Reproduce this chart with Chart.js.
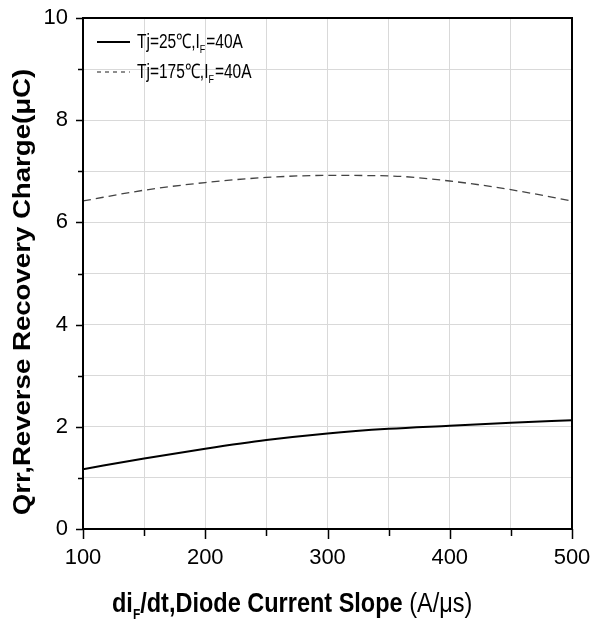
<!DOCTYPE html>
<html>
<head>
<meta charset="utf-8">
<script src="https://cdn.jsdelivr.net/npm/chart.js@4"></script>
<style>
  html, body { margin: 0; padding: 0; background: #fff; }
  #wrap { width: 591px; height: 620px; }
</style>
</head>
<body>
<div id="wrap"><canvas id="qrrChart" width="591" height="620"></canvas></div>
<script>
// values
const slope = [100, 150, 200, 250, 300, 350, 400, 450, 500];
const qrr25 = [1.17, 1.38, 1.57, 1.74, 1.87, 1.96, 2.02, 2.08, 2.13];
const qrr175 = [6.42, 6.63, 6.78, 6.88, 6.92, 6.91, 6.81, 6.64, 6.42];
const legendNames = [['Tj=25\u2103,I', 'F', '=40A'], ['Tj=175\u2103,I', 'F', '=40A']];

const sans = '"Liberation Sans", Arial, sans-serif';

function points(xs, ys) {
  return xs.map((x, i) => ({x: x, y: ys[i]}));
}

// draws a run of text pieces, stretched vertically a bit like the scan
function drawRun(ctx, parts, x, y, stretch) {
  ctx.save();
  ctx.translate(x, y);
  ctx.scale(1, stretch);
  let cx = 0;
  parts.forEach(p => {
    ctx.font = p.f;
    ctx.fillText(p.t, cx, p.dy || 0);
    cx += ctx.measureText(p.t).width + (p.gap || 0);
  });
  ctx.restore();
}

// ticks, frame, legend and axis titles
const decor = {
  id: 'decor',
  afterDraw(chart) {
    const ctx = chart.ctx;
    const a = chart.chartArea;
    const xs = chart.scales.x, ys = chart.scales.y;
    ctx.save();
    ctx.strokeStyle = '#000';
    ctx.lineWidth = 1.5;
    ctx.beginPath();
    for (let v = 100; v <= 500; v += 50) {
      const px = Math.round(xs.getPixelForValue(v)) + 0.5;
      const len = v % 100 === 0 ? 10 : 7;
      ctx.moveTo(px, a.bottom);
      ctx.lineTo(px, a.bottom + len);
    }
    for (let v = 0; v <= 10; v += 1) {
      const py = Math.round(ys.getPixelForValue(v)) + 0.5;
      const len = v % 2 === 0 ? 7 : 5;
      ctx.moveTo(a.left, py);
      ctx.lineTo(a.left - len, py);
    }
    ctx.stroke();

    // frame
    ctx.lineWidth = 2;
    ctx.strokeRect(a.left, a.top, a.right - a.left, a.bottom - a.top);

    // legend
    const rows = [{y: 42, dash: [], w: 2, c: '#000'}, {y: 72, dash: [4, 4], w: 1.2, c: '#444'}];
    rows.forEach((r, i) => {
      ctx.setLineDash(r.dash);
      ctx.lineWidth = r.w;
      ctx.strokeStyle = r.c;
      ctx.beginPath();
      ctx.moveTo(97, r.y);
      ctx.lineTo(130, r.y);
      ctx.stroke();
      ctx.setLineDash([]);
      ctx.fillStyle = '#000';
      ctx.textBaseline = 'middle';
      ctx.textAlign = 'left';
      const parts = legendNames[i];
      drawRun(ctx, [
        {t: parts[0], f: '15.5px ' + sans},
        {t: parts[1], f: '9px ' + sans, dy: 6, gap: 1},
        {t: parts[2], f: '15.5px ' + sans}
      ], 137, r.y, 1.3);
    });

    // x title
    ctx.fillStyle = '#000';
    ctx.textBaseline = 'alphabetic';
    ctx.textAlign = 'left';
    drawRun(ctx, [
      {t: 'di', f: 'bold 23.5px ' + sans},
      {t: 'F', f: 'bold 12px ' + sans, dy: 6},
      {t: '/dt,Diode Current Slope ', f: 'bold 23.5px ' + sans},
      {t: '(A/\u03bcs)', f: '23.5px ' + sans}
    ], 112, 612, 1.2);

    // y title
    ctx.translate(23, 292);
    ctx.rotate(-Math.PI / 2);
    ctx.scale(1.15, 1);
    ctx.font = 'bold 24px ' + sans;
    ctx.textAlign = 'center';
    ctx.textBaseline = 'middle';
    ctx.fillText('Qrr,Reverse Recovery Charge(\u03bcC)', 0, 0);
    ctx.restore();
  }
};

new Chart(document.getElementById('qrrChart'), {
  type: 'line',
  data: {
    datasets: [
      {
        label: 'Tj=25\u2103,IF=40A',
        data: points(slope, qrr25),
        borderColor: '#000',
        borderWidth: 2,
        pointRadius: 0,
        cubicInterpolationMode: 'monotone'
      },
      {
        label: 'Tj=175\u2103,IF=40A',
        data: points(slope, qrr175),
        borderColor: '#444',
        borderWidth: 1.3,
        borderDash: [8, 5],
        pointRadius: 0,
        cubicInterpolationMode: 'monotone'
      }
    ]
  },
  options: {
    responsive: false,
    animation: false,
    layout: { padding: { top: 18, right: 19, left: 0, bottom: 0 } },
    plugins: { legend: { display: false }, tooltip: { enabled: false } },
    scales: {
      x: {
        type: 'linear',
        min: 100, max: 500,
        afterFit(s) { s.height = 91; s.paddingLeft = 0; s.paddingRight = 0; },
        border: { display: true, color: '#000', width: 2 },
        grid: { color: '#d9d9d9', lineWidth: 1, drawTicks: false },
        ticks: {
          stepSize: 50,
          padding: 16,
          color: '#000',
          font: { family: sans, size: 22 },
          maxRotation: 0,
          autoSkip: false,
          callback: v => (v % 100 === 0 ? String(v) : '')
        }
      },
      y: {
        min: 0, max: 10,
        afterFit(s) { s.width = 83; s.paddingTop = 0; s.paddingBottom = 0; },
        border: { display: true, color: '#000', width: 2 },
        grid: { color: '#d9d9d9', lineWidth: 1, drawTicks: false },
        ticks: {
          stepSize: 1,
          padding: 15,
          color: '#000',
          font: { family: sans, size: 22 },
          autoSkip: false,
          callback: v => (v % 2 === 0 ? String(v) : '')
        }
      }
    }
  },
  plugins: [decor]
});
</script>
</body>
</html>
